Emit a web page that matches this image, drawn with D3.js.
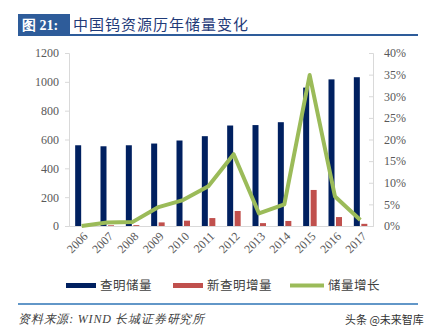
<!DOCTYPE html>
<html><head><meta charset="utf-8">
<script src="https://cdn.jsdelivr.net/npm/d3@7"></script>
<style>body{margin:0;background:#fff;}svg{display:block;}</style>
</head><body>
<svg id="c" width="435" height="336"></svg>
<script>
const years = ["2006","2007","2008","2009","2010","2011","2012","2013","2014","2015","2016","2017"];
const proven = [560,553,560,572,593,623,697,700,720,960,1017,1032];
const newProven = [2,5,6,25,37,55,104,20,35,250,62,15];
const growth = [0.0,0.8,0.9,4.3,6.0,9.2,16.6,2.9,5.0,34.9,6.8,1.4];
const leftTicks = [0,200,400,600,800,1000,1200];
const rightTicks = [0,5,10,15,20,25,30,35,40];
const seriesNames = ["查明储量","新查明增量","储量增长"];
const colors = ["#002060","#C0504D","#9BBB59"];

const svg = d3.select("#c");
const L = 69, R = 373, T = 53, B = 226;
const x = d3.scaleBand().domain(years).range([L,R]);
const yL = d3.scaleLinear().domain([0,1200]).range([B,T]);
const yR = d3.scaleLinear().domain([0,40]).range([B,T]);
const serif = "'Liberation Serif','DejaVu Serif',serif";
const cjk = "'Noto Sans CJK SC','Noto Sans',sans-serif";

// Title
svg.append("rect").attr("x",18).attr("y",14).attr("width",52).attr("height",21).attr("fill","#2E5C9A");
svg.append("text").attr("x",22).attr("y",30).attr("fill","#fff").attr("font-family",serif)
  .attr("font-weight","bold").attr("font-size",14).text("图 21:");
svg.append("text").attr("x",73).attr("y",30).attr("fill","#1F3A78").attr("font-family",cjk)
  .attr("font-size",15).attr("letter-spacing",1).text("中国钨资源历年储量变化");
svg.append("line").attr("x1",18).attr("x2",418).attr("y1",35).attr("y2",35)
  .attr("stroke","#2E5C9A").attr("stroke-width",2);

// Axes
const gL = svg.append("g").attr("transform",`translate(${L},0)`)
  .call(d3.axisLeft(yL).tickValues(leftTicks).tickSize(4).tickPadding(6).tickFormat(d3.format("d")));
const gR = svg.append("g").attr("transform",`translate(${R},0)`)
  .call(d3.axisRight(yR).tickValues(rightTicks).tickSize(-4).tickPadding(11).tickFormat(d=>d+"%"));
const gB = svg.append("g").attr("transform",`translate(0,${B})`)
  .call(d3.axisBottom(x).tickSize(0).tickPadding(0));
[gL,gR,gB].forEach(g=>{
  g.selectAll(".domain").attr("stroke","#D9D9D9");
  g.selectAll(".tick line").attr("stroke","#D9D9D9");
  g.selectAll("text").attr("fill","#595959").attr("font-family",serif).attr("font-size",12);
});
gB.selectAll("text").attr("text-anchor","end").attr("dy",null)
  .attr("transform","translate(5,9) rotate(-45)").attr("y",0).attr("x",0).attr("dominant-baseline","middle");

// Bars
const bw = 6;
svg.append("g").selectAll("rect").data(years).join("rect")
  .attr("x",d=>x(d)+x.bandwidth()/2-bw-0.5).attr("width",bw)
  .attr("y",(d,i)=>yL(proven[i])).attr("height",(d,i)=>B-yL(proven[i]))
  .attr("fill",colors[0]);
svg.append("g").selectAll("rect").data(years).join("rect")
  .attr("x",d=>x(d)+x.bandwidth()/2+1).attr("width",bw)
  .attr("y",(d,i)=>yL(newProven[i])).attr("height",(d,i)=>B-yL(newProven[i]))
  .attr("fill",colors[1]);

// Line
const line = d3.line().x((d,i)=>x(years[i])+x.bandwidth()/2).y(d=>yR(d));
svg.append("path").datum(growth).attr("d",line).attr("fill","none")
  .attr("stroke",colors[2]).attr("stroke-width",4).attr("stroke-linejoin","round");

// Legend
const lg = [{x:66,t:100},{x:173,t:207},{x:290,t:328}];
lg.forEach((p,i)=>{
  if(i<2) svg.append("rect").attr("x",p.x).attr("y",283).attr("width",30).attr("height",5).attr("fill",colors[i]);
  else svg.append("line").attr("x1",p.x).attr("x2",p.x+34).attr("y1",285.5).attr("y2",285.5)
    .attr("stroke",colors[i]).attr("stroke-width",4);
  svg.append("text").attr("x",p.t).attr("y",290).attr("fill","#404040").attr("font-family",cjk)
    .attr("font-size",12.5).attr("letter-spacing",0.5).text(seriesNames[i]);
});

// Footer
svg.append("line").attr("x1",18).attr("x2",418).attr("y1",304).attr("y2",304)
  .attr("stroke","#2E75B6").attr("stroke-width",1.5);
svg.append("text").attr("x",18).attr("y",323).attr("fill","#404040").attr("font-family",serif)
  .attr("font-style","italic").attr("font-size",12).attr("letter-spacing",0.8).text("资料来源: WIND  长城证券研究所");
svg.append("text").attr("x",345).attr("y",324).attr("fill","#333").attr("font-family",cjk)
  .attr("font-size",11).text("头条 @未来智库");
</script>
</body></html>
